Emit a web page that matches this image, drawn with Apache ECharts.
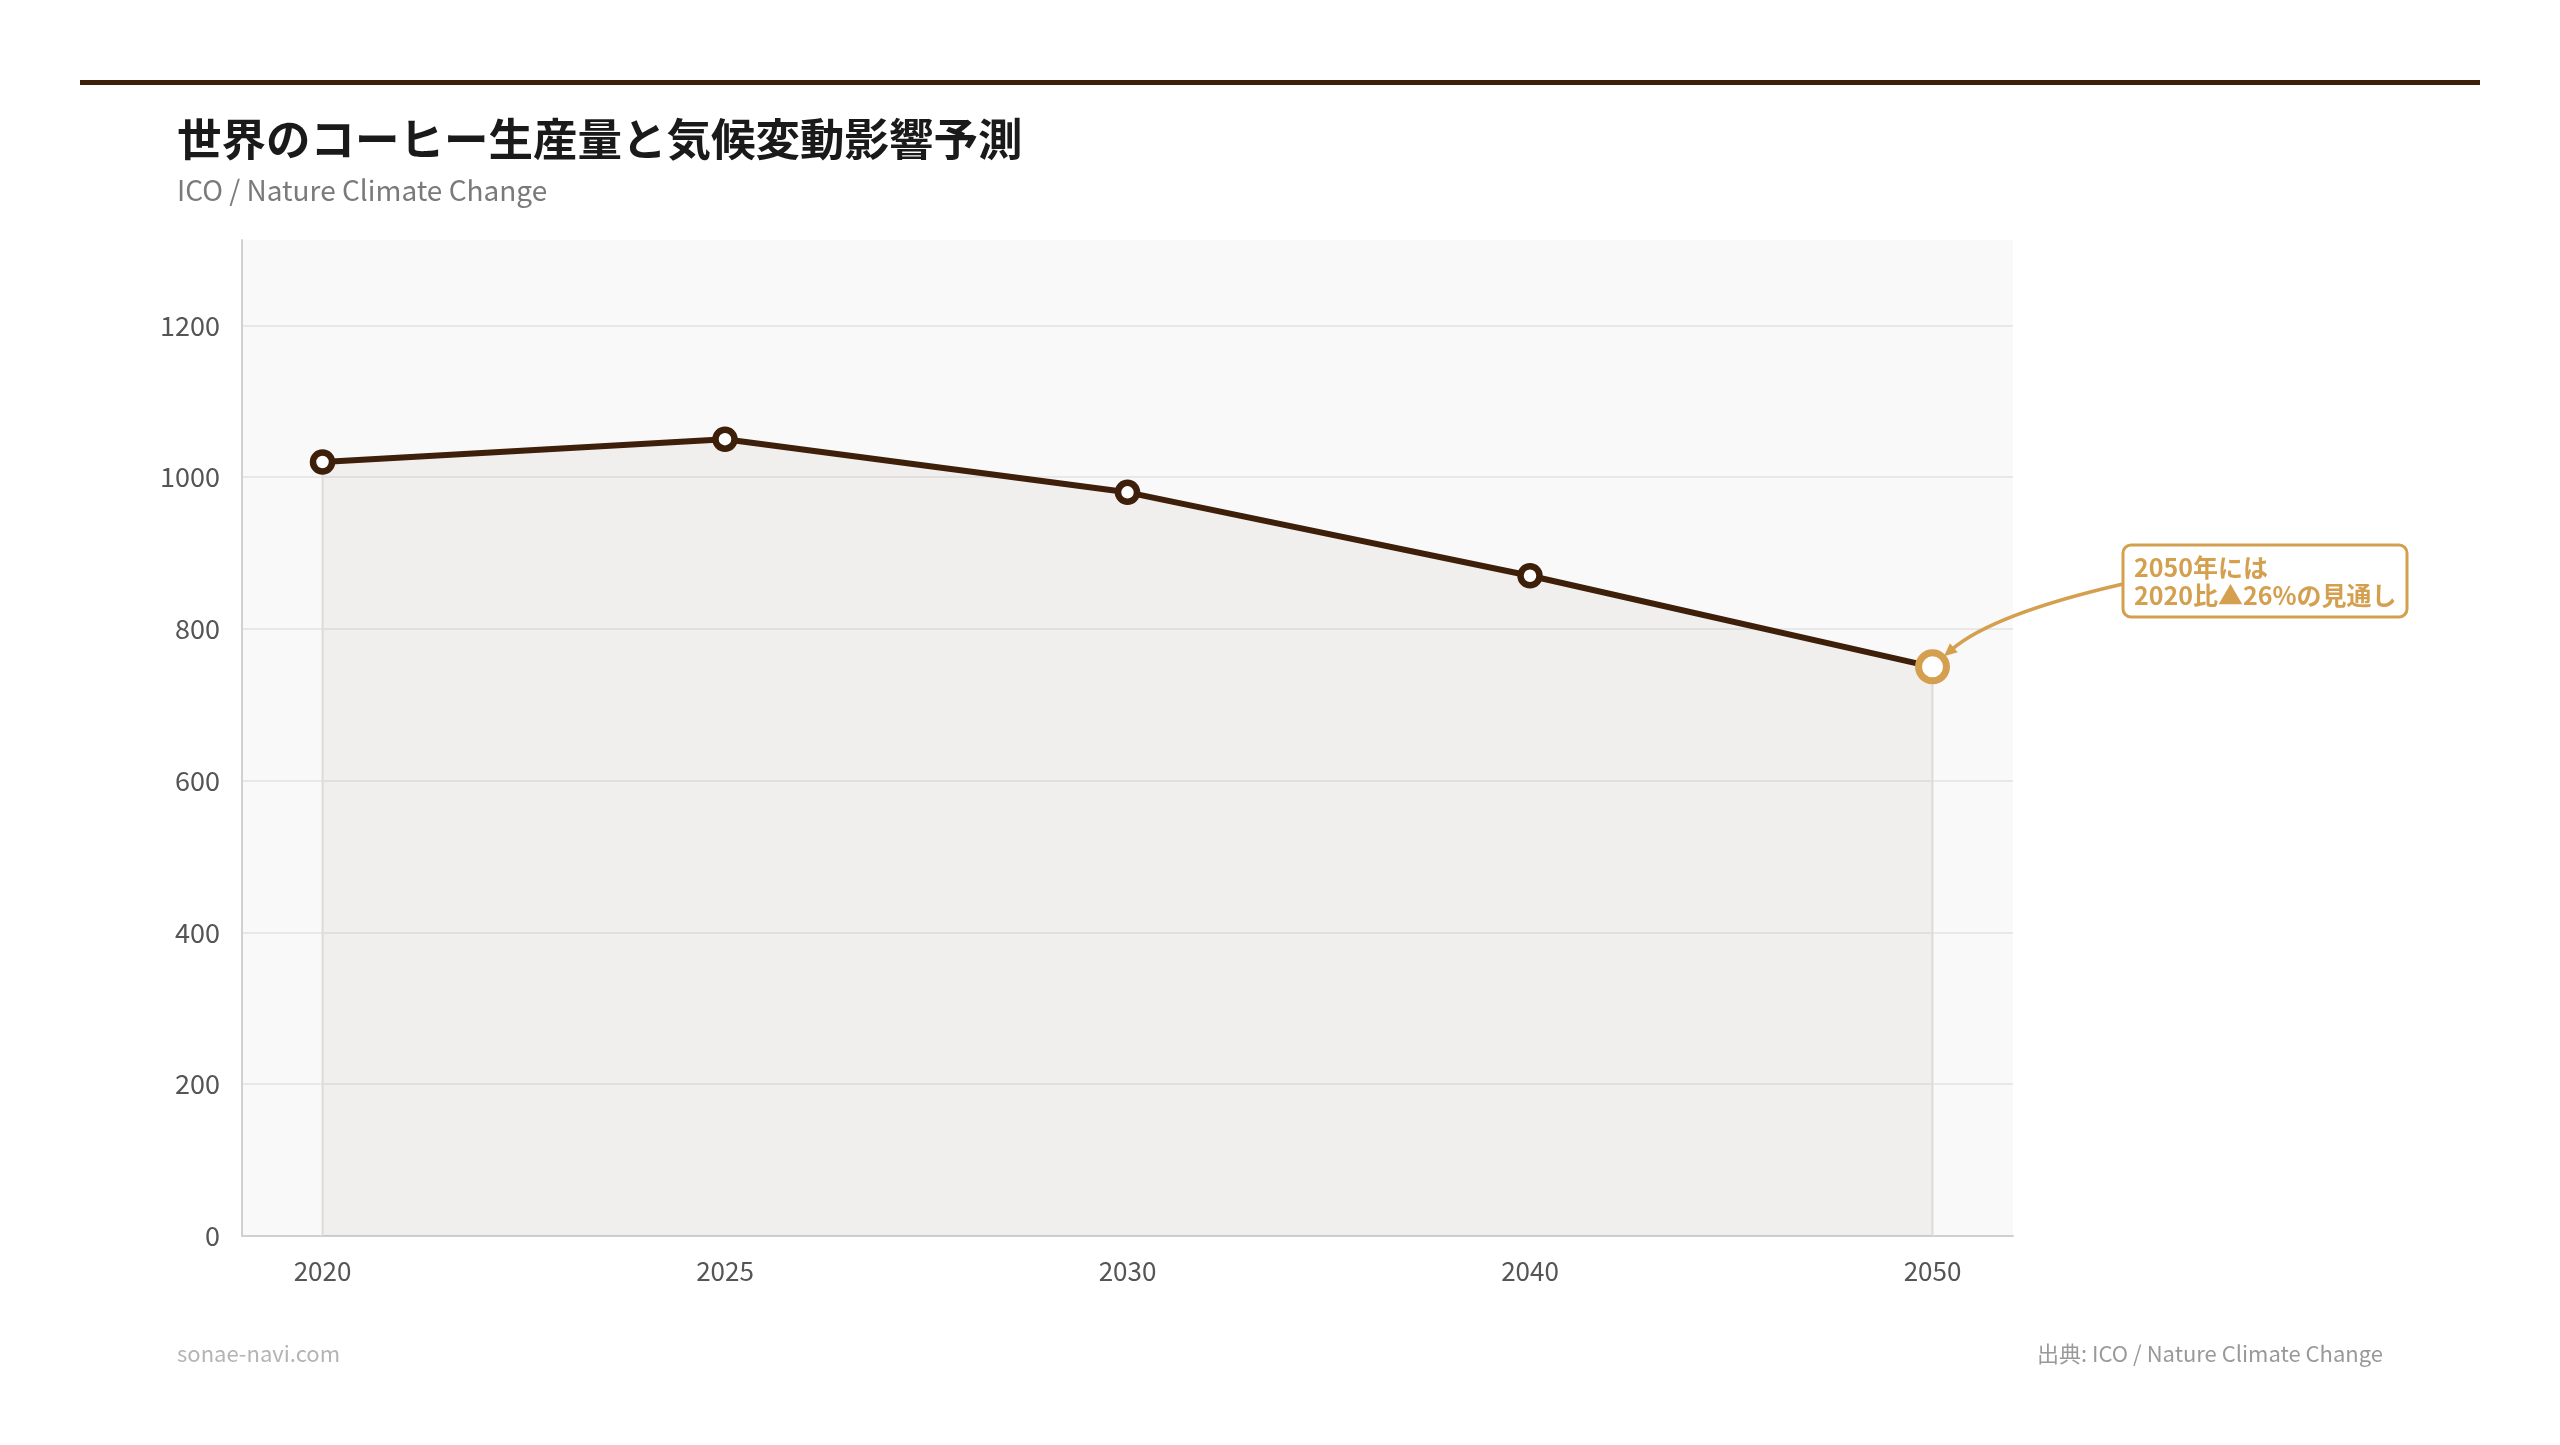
<!DOCTYPE html>
<html>
<head>
<meta charset="utf-8">
<script src="https://cdn.jsdelivr.net/npm/echarts@6/dist/echarts.min.js"></script>
<style>
html,body{margin:0;padding:0;background:#fff;}
#chart{width:2560px;height:1445px;}
</style>
</head>
<body>
<div id="chart"></div>
<script>
// ---- data ----
const years = ['2020', '2025', '2030', '2040', '2050'];
const production = [1020, 1050, 980, 870, 750];
const yTicks = [0, 200, 400, 600, 800, 1000, 1200];
const titleText = '世界のコーヒー生産量と気候変動影響予測';
const subtitleText = 'ICO / Nature Climate Change';
const noteLines = ['2050年には', '2020比▲26%の見通し'];
const siteText = 'sonae-navi.com';
const sourceText = '出典: ICO / Nature Climate Change';

const FONT = '"Noto Sans CJK JP", "Noto Sans", sans-serif';
const BROWN = '#3d1f0a';
const GOLD = '#d4a04f';
const lastIdx = years.length - 1;

const chart = echarts.init(document.getElementById('chart'));

const seriesData = production.map((v, i) => {
  if (i === lastIdx) {
    return {
      value: [i, v],
      symbolSize: 28,
      itemStyle: { color: '#fff', borderColor: GOLD, borderWidth: 7 }
    };
  }
  return [i, v];
});

const yMax = Math.max(...production) * 1.25;

const baseGraphic = [
  { type: 'rect', left: 80, top: 80, shape: { width: 2400, height: 5 },
    style: { fill: BROWN } }
];

chart.setOption({
  backgroundColor: '#fff',
  animation: false,
  textStyle: { fontFamily: FONT },
  title: [
    { text: titleText, left: 172, top: 112,
      textStyle: { fontFamily: FONT, fontSize: 44.5, fontWeight: 'bold', color: '#1a1a1a' } },
    { text: subtitleText, left: 172, top: 171,
      textStyle: { fontFamily: FONT, fontSize: 28, fontWeight: 'normal', color: '#7a7a7a' } },
    { text: siteText, left: 172, top: 1338,
      textStyle: { fontFamily: FONT, fontSize: 22, fontWeight: 'normal', color: '#b4b4b4' } },
    { text: sourceText, right: 172, top: 1338,
      textStyle: { fontFamily: FONT, fontSize: 22, fontWeight: 'normal', color: '#999' } }
  ],
  grid: {
    left: 242, right: 547, top: 240, bottom: 209,
    show: true, backgroundColor: '#f9f9f9', borderWidth: 0
  },
  xAxis: {
    type: 'value',
    min: -0.2,
    max: lastIdx + 0.2,
    axisLine: { show: true, onZero: false, lineStyle: { color: '#d0d0d0', width: 2 } },
    axisTick: { show: false },
    splitLine: { show: false },
    axisLabel: {
      fontFamily: FONT, fontSize: 26, color: '#555', margin: 22,
      showMinLabel: true, showMaxLabel: true,
      formatter: v => {
        const r = Math.round(v);
        return Math.abs(v - r) < 1e-6 && years[r] !== undefined ? years[r] : '';
      }
    }
  },
  yAxis: {
    type: 'value',
    min: 0,
    max: yMax,
    interval: 200,
    axisLine: { show: true, onZero: false, lineStyle: { color: '#d0d0d0', width: 2 } },
    axisTick: { show: false },
    splitLine: { show: true, showMaxLine: false, lineStyle: { color: '#e8e8e8', width: 2 } },
    axisLabel: {
      fontFamily: FONT, fontSize: 27, color: '#555', margin: 22,
      showMaxLabel: false,
      formatter: v => (yTicks.indexOf(v) >= 0 ? String(v) : '')
    }
  },
  series: [{
    type: 'line',
    data: seriesData,
    symbol: 'circle',
    symbolSize: 19,
    lineStyle: { color: BROWN, width: 6 },
    itemStyle: { color: '#fff', borderColor: BROWN, borderWidth: 6.5 },
    areaStyle: { color: 'rgba(61,31,10,0.06)' },
    z: 3
  }],
  graphic: baseGraphic
});

// end guide lines (from data points down to the baseline)
const edgeLines = [0, lastIdx].map(i => {
  const top = chart.convertToPixel({ gridIndex: 0 }, [i, production[i]]);
  const bot = chart.convertToPixel({ gridIndex: 0 }, [i, 0]);
  return { type: 'line', z: 1, silent: true,
    shape: { x1: top[0], y1: top[1], x2: bot[0], y2: bot[1] },
    style: { stroke: '#e2dfdc', lineWidth: 2 } };
});

// annotation box + curved arrow toward the 2050 point
const p = chart.convertToPixel({ gridIndex: 0 }, [lastIdx, production[lastIdx]]);
const end = [p[0] + 13, p[1] - 12];
const start = [2123, 584];
const ctrl = [1993, 614];
const dx = end[0] - ctrl[0], dy = end[1] - ctrl[1];
const len = Math.sqrt(dx * dx + dy * dy);
const ux = dx / len, uy = dy / len;
const ah = 13, aw = 6;
const tip = [end[0] + ux * 2, end[1] + uy * 2];
const base = [tip[0] - ux * ah, tip[1] - uy * ah];
const arrowPts = [
  tip,
  [base[0] - uy * aw, base[1] + ux * aw],
  [base[0] + uy * aw, base[1] - ux * aw]
];

chart.setOption({
  graphic: baseGraphic.concat(edgeLines, [
    { type: 'bezierCurve', z: 10,
      shape: { x1: start[0], y1: start[1], x2: end[0] - ux * 8, y2: end[1] - uy * 8, cpx1: ctrl[0], cpy1: ctrl[1] },
      style: { stroke: GOLD, lineWidth: 3.5, fill: null } },
    { type: 'polygon', z: 10, shape: { points: arrowPts }, style: { fill: GOLD } },
    { type: 'rect', z: 10, x: 2123, y: 545,
      shape: { width: 284, height: 72, r: 8 },
      style: { fill: '#fff', stroke: GOLD, lineWidth: 3 } },
    { type: 'text', z: 11, x: 2134, y: 581,
      style: {
        text: noteLines.join('\n'),
        font: 'bold 25px ' + FONT,
        lineHeight: 28,
        fill: GOLD,
        verticalAlign: 'middle',
        align: 'left'
      } }
  ])
});
</script>
</body>
</html>
